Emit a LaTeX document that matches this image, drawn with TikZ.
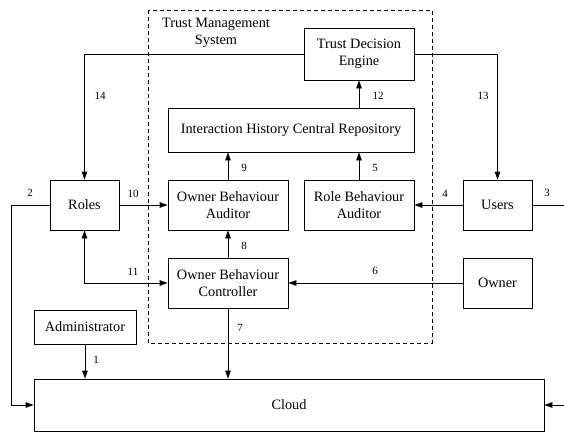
\documentclass[tikz,border=0pt]{standalone}
\usepackage{fontspec}
\setmainfont{Liberation Serif}
\usetikzlibrary{arrows.meta}
\begin{document}
\begin{tikzpicture}[x=1pt,y=-1pt,
  box/.style={draw, line width=0.8pt, inner sep=0pt, align=center, font=\fontsize{14.3}{16.5}\selectfont},
  conn/.style={line width=0.8pt},
  arr/.style={conn, -{Triangle[length=8pt,width=5.5pt]}},
  darr/.style={conn, {Triangle[length=8pt,width=5.5pt]}-{Triangle[length=8pt,width=5.5pt]}},
  num/.style={font=\fontsize{11}{12}\selectfont, inner sep=0pt}]
\useasboundingbox (0,0) rectangle (564,432);
% dashed system boundary
\draw[dashed, line width=0.8pt, dash pattern=on 4pt off 3pt] (148,10) rectangle (432,343);
\node[align=center, font=\fontsize{14.3}{16.5}\selectfont] (tms) at (216,33) {Trust Management\\System};
% boxes
\node[box, minimum width=110pt, minimum height=52pt] (tde) at (359,54) {Trust Decision\\Engine};
\node[box, minimum width=246pt, minimum height=44pt] (ihcr) at (291,130) {Interaction History Central Repository};
\node[box, minimum width=120pt, minimum height=50pt] (oba) at (228,205) {Owner Behaviour\\Auditor};
\node[box, minimum width=110pt, minimum height=50pt] (rba) at (359,205) {Role Behaviour\\Auditor};
\node[box, minimum width=69pt, minimum height=50pt] (roles) at (84.5,205) {Roles};
\node[box, minimum width=69pt, minimum height=50pt] (users) at (497.5,205) {Users};
\node[box, minimum width=120pt, minimum height=50pt] (obc) at (228,283) {Owner Behaviour\\Controller};
\node[box, minimum width=69pt, minimum height=50pt] (owner) at (497.5,283) {Owner};
\node[box, minimum width=102pt, minimum height=34pt] (admin) at (85,327) {Administrator};
\node[box, minimum width=510pt, minimum height=52pt] (cloud) at (289,405) {Cloud};
\coordinate (rin) at (564,205);
\coordinate (rin2) at (564,405);
% connectors
\draw[arr] (tde.west) -| (roles.north);
\draw[arr] (tde.east) -| (users.north);
\draw[arr] (ihcr.north -| tde) -- (tde.south);
\draw[arr] (oba.north) -- (oba.north |- ihcr.south);
\draw[arr] (rba.north) -- (rba.north |- ihcr.south);
\draw[arr] (roles.east) -- (oba.west);
\draw[arr] (users.west) -- (rba.east);
\draw[conn] (users.east) -- (rin);
\draw[arr] (rin2) -- (cloud.east);
\draw[arr] (roles.west) -- ++(-38,0) |- (cloud.west);
\draw[arr] (obc.north) -- (oba.south);
\draw[darr] (roles.south) |- (obc.west);
\draw[arr] (owner.west) -- (obc.east);
\draw[arr] (admin.south) -- (admin.south |- cloud.north);
\draw[arr] (obc.south) -- (obc.south |- cloud.north);
% labels
\node[num] (l14) at (100,96) {14};
\node[num] (l13) at (483,96) {13};
\node[num] (l12) at (378,96) {12};
\node[num] (l9) at (244,168) {9};
\node[num] (l5) at (375,168) {5};
\node[num] (l2) at (30,193) {2};
\node[num] (l10) at (133,194) {10};
\node[num] (l4) at (445,194) {4};
\node[num] (l3) at (547,193) {3};
\node[num] (l8) at (244,246) {8};
\node[num] (l11) at (133,272) {11};
\node[num] (l6) at (375,271) {6};
\node[num] (l7) at (240,328) {7};
\node[num] (l1) at (96,360) {1};
\end{tikzpicture}
\end{document}
